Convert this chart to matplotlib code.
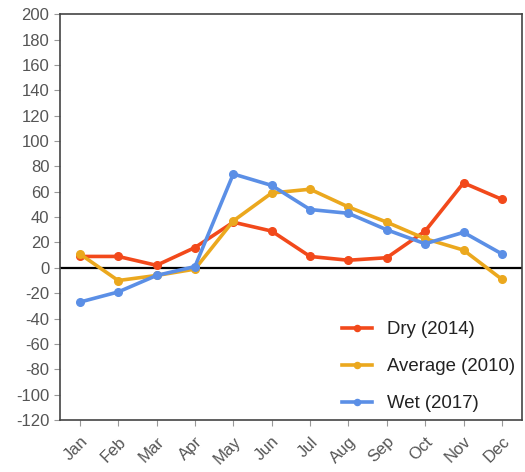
import matplotlib
matplotlib.use("Agg")
import matplotlib.pyplot as plt

plt.rcParams["font.family"] = ["Liberation Sans", "DejaVu Sans"]
plt.rcParams["axes.unicode_minus"] = False

months = ["Jan", "Feb", "Mar", "Apr", "May", "Jun",
          "Jul", "Aug", "Sep", "Oct", "Nov", "Dec"]
dry_2014 = [9, 9, 2, 16, 36, 29, 9, 6, 8, 29, 67, 54]
avg_2010 = [11, -10, -6, -1, 37, 59, 62, 48, 36, 23, 14, -9]
wet_2017 = [-27, -19, -6, 1, 74, 65, 46, 43, 30, 19, 28, 11]

series = [
    ("Dry (2014)", dry_2014, "#F2491B"),
    ("Average (2010)", avg_2010, "#EBA81E"),
    ("Wet (2017)", wet_2017, "#5B8FE6"),
]

fig = plt.figure(figsize=(5.25, 4.72), dpi=100)
ax = fig.add_axes([0.114, 0.110, 0.880, 0.860])

x = list(range(len(months)))
for label, vals, color in series:
    ax.plot(x, vals, color=color, lw=2.6, marker="o", ms=5.5, label=label)

ax.axhline(0, color="black", lw=1.6, zorder=1)

ax.set_xlim(-0.52, 11.52)
ax.set_ylim(-120, 200)
ax.set_yticks(range(-120, 201, 20))
ax.set_xticks(x)
ax.set_xticklabels(months, rotation=45, ha="right", rotation_mode="anchor")
ax.tick_params(axis="both", colors="#999999", labelcolor="#555555", labelsize=12,
               length=4, width=0.8)
ax.tick_params(axis="x", pad=6)
for s in ax.spines.values():
    s.set_color("#444444")
    s.set_linewidth(1.2)

leg = ax.legend(loc="upper left", bbox_to_anchor=(0.595, 0.262), frameon=False,
                fontsize=13.4, labelspacing=1.08, handlelength=1.6, handletextpad=0.8,
                borderaxespad=0, markerscale=0.8)
for t in leg.get_texts():
    t.set_color("#222222")

fig.savefig("out.png", dpi=100)
